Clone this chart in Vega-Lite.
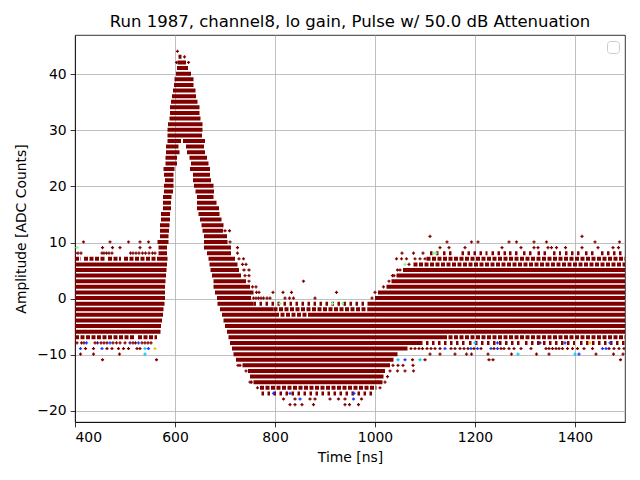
{
  "$schema": "https://vega.github.io/schema/vega-lite/v6.json",
  "width": 550,
  "height": 387,
  "autosize": {"type": "none"},
  "padding": {"left": 75, "top": 35, "right": 15, "bottom": 58},
  "title": {
    "text": "Run 1987, channel8, lo gain, Pulse w/ 50.0 dB Attenuation",
    "font": "DejaVu Sans",
    "fontSize": 16.5,
    "fontWeight": "normal",
    "color": "black",
    "baseline": "alphabetic",
    "offset": 8,
    "dy": 16.5
  },
  "config": {
    "view": {"stroke": "black", "strokeWidth": 0.8},
    "axis": {
      "domainColor": "black",
      "domainWidth": 0.8,
      "tickColor": "black",
      "tickWidth": 0.8,
      "tickSize": 4.9,
      "labelColor": "black",
      "titleColor": "black",
      "labelFont": "DejaVu Sans",
      "titleFont": "DejaVu Sans",
      "labelFontSize": 13.9,
      "titleFontSize": 13.9,
      "titleFontWeight": "normal",
      "labelPadding": 4,
      "gridColor": "#b0b0b0",
      "gridWidth": 0.8,
      "gridOpacity": 1,
      "zindex": 1
    }
  },
  "data": {
    "values": [
      {"t0": 607, "t1": 613, "a": 43.1, "s": "s"},
      {"t0": 605, "t1": 622, "a": 42.1, "s": "s"},
      {"t0": 604, "t1": 626, "a": 41.1, "s": "s"},
      {"t0": 602, "t1": 632, "a": 40.1, "s": "s"},
      {"t0": 599, "t1": 637, "a": 39.1, "s": "s"},
      {"t0": 598, "t1": 637, "a": 38.1, "s": "s"},
      {"t0": 596, "t1": 641, "a": 37.1, "s": "s"},
      {"t0": 594, "t1": 642, "a": 36.1, "s": "s"},
      {"t0": 592, "t1": 645, "a": 35.1, "s": "s"},
      {"t0": 590, "t1": 649, "a": 34.1, "s": "s"},
      {"t0": 590, "t1": 649, "a": 33.1, "s": "s"},
      {"t0": 589, "t1": 651, "a": 32.1, "s": "s"},
      {"t0": 586, "t1": 655, "a": 31.1, "s": "s"},
      {"t0": 585, "t1": 655, "a": 30.1, "s": "s"},
      {"t0": 585, "t1": 654, "a": 29.1, "s": "s"},
      {"t0": 585, "t1": 612, "a": 28.1, "s": "s"},
      {"t0": 616, "t1": 660, "a": 28.1, "s": "s"},
      {"t0": 582, "t1": 607, "a": 27.1, "s": "s"},
      {"t0": 622, "t1": 658, "a": 27.1, "s": "s"},
      {"t0": 582, "t1": 609, "a": 26.1, "s": "s"},
      {"t0": 624, "t1": 660, "a": 26.1, "s": "s"},
      {"t0": 581, "t1": 604, "a": 25.1, "s": "s"},
      {"t0": 629, "t1": 664, "a": 25.1, "s": "s"},
      {"t0": 581, "t1": 604, "a": 24.1, "s": "s"},
      {"t0": 632, "t1": 667, "a": 24.1, "s": "s"},
      {"t0": 577, "t1": 599, "a": 23.1, "s": "s"},
      {"t0": 630, "t1": 670, "a": 23.1, "s": "s"},
      {"t0": 578, "t1": 597, "a": 22.1, "s": "s"},
      {"t0": 636, "t1": 670, "a": 22.1, "s": "s"},
      {"t0": 580, "t1": 597, "a": 21.1, "s": "s"},
      {"t0": 636, "t1": 672, "a": 21.1, "s": "s"},
      {"t0": 578, "t1": 597, "a": 20.1, "s": "s"},
      {"t0": 638, "t1": 677, "a": 20.1, "s": "s"},
      {"t0": 578, "t1": 596, "a": 19.1, "s": "s"},
      {"t0": 641, "t1": 678, "a": 19.1, "s": "s"},
      {"t0": 576, "t1": 593, "a": 18.1, "s": "s"},
      {"t0": 644, "t1": 677, "a": 18.1, "s": "s"},
      {"t0": 576, "t1": 592, "a": 17.1, "s": "s"},
      {"t0": 644, "t1": 683, "a": 17.1, "s": "s"},
      {"t0": 576, "t1": 592, "a": 16.1, "s": "s"},
      {"t0": 644, "t1": 688, "a": 16.1, "s": "s"},
      {"t0": 572, "t1": 590, "a": 15.1, "s": "s"},
      {"t0": 647, "t1": 689, "a": 15.1, "s": "s"},
      {"t0": 572, "t1": 590, "a": 14.1, "s": "s"},
      {"t0": 650, "t1": 693, "a": 14.1, "s": "s"},
      {"t0": 570, "t1": 589, "a": 13.1, "s": "s"},
      {"t0": 653, "t1": 697, "a": 13.1, "s": "s"},
      {"t0": 570, "t1": 588, "a": 12.1, "s": "s"},
      {"t0": 655, "t1": 696, "a": 12.1, "s": "s"},
      {"t0": 570, "t1": 587, "a": 11.1, "s": "s"},
      {"t0": 658, "t1": 704, "a": 11.1, "s": "s"},
      {"t0": 565, "t1": 587, "a": 10.1, "s": "s"},
      {"t0": 658, "t1": 705, "a": 10.1, "s": "s"},
      {"t0": 567, "t1": 584, "a": 9.1, "s": "s"},
      {"t0": 658, "t1": 712, "a": 9.1, "s": "s"},
      {"t0": 567, "t1": 584, "a": 8.1, "s": "s"},
      {"t0": 664, "t1": 712, "a": 8.1, "s": "s"},
      {"t0": 1110, "t1": 1130, "a": 8.1, "s": "m"},
      {"t0": 1136, "t1": 1160, "a": 8.1, "s": "m"},
      {"t0": 1173, "t1": 1225, "a": 8.1, "s": "m"},
      {"t0": 1233, "t1": 1262, "a": 8.1, "s": "m"},
      {"t0": 1268, "t1": 1290, "a": 8.1, "s": "m"},
      {"t0": 1296, "t1": 1318, "a": 8.1, "s": "m"},
      {"t0": 1325, "t1": 1345, "a": 8.1, "s": "m"},
      {"t0": 1356, "t1": 1372, "a": 8.1, "s": "m"},
      {"t0": 1380, "t1": 1412, "a": 8.1, "s": "m"},
      {"t0": 1420, "t1": 1442, "a": 8.1, "s": "m"},
      {"t0": 1452, "t1": 1500, "a": 8.1, "s": "m"},
      {"t0": 400, "t1": 412, "a": 7.1, "s": "d"},
      {"t0": 418, "t1": 460, "a": 7.1, "s": "d"},
      {"t0": 466, "t1": 492, "a": 7.1, "s": "d"},
      {"t0": 498, "t1": 566, "a": 7.1, "s": "d"},
      {"t0": 566, "t1": 585, "a": 7.1, "s": "s"},
      {"t0": 667, "t1": 720, "a": 7.1, "s": "s"},
      {"t0": 1103, "t1": 1500, "a": 7.1, "s": "d"},
      {"t0": 400, "t1": 584, "a": 6.1, "s": "s"},
      {"t0": 669, "t1": 725, "a": 6.1, "s": "s"},
      {"t0": 1077, "t1": 1500, "a": 6.1, "s": "d"},
      {"t0": 400, "t1": 583, "a": 5.1, "s": "s"},
      {"t0": 671, "t1": 728, "a": 5.1, "s": "s"},
      {"t0": 1056, "t1": 1500, "a": 5.1, "s": "s"},
      {"t0": 400, "t1": 582, "a": 4.1, "s": "s"},
      {"t0": 674, "t1": 732, "a": 4.1, "s": "s"},
      {"t0": 1043, "t1": 1500, "a": 4.1, "s": "s"},
      {"t0": 400, "t1": 581, "a": 3.1, "s": "s"},
      {"t0": 677, "t1": 742, "a": 3.1, "s": "s"},
      {"t0": 1033, "t1": 1500, "a": 3.1, "s": "s"},
      {"t0": 400, "t1": 580, "a": 2.1, "s": "s"},
      {"t0": 677, "t1": 750, "a": 2.1, "s": "s"},
      {"t0": 1023, "t1": 1500, "a": 2.1, "s": "s"},
      {"t0": 400, "t1": 580, "a": 1.1, "s": "s"},
      {"t0": 680, "t1": 757, "a": 1.1, "s": "s"},
      {"t0": 1006, "t1": 1500, "a": 1.1, "s": "s"},
      {"t0": 400, "t1": 580, "a": 0.1, "s": "s"},
      {"t0": 684, "t1": 752, "a": 0.1, "s": "s"},
      {"t0": 1000, "t1": 1500, "a": 0.1, "s": "s"},
      {"t0": 400, "t1": 579, "a": -0.9, "s": "s"},
      {"t0": 685, "t1": 757, "a": -0.9, "s": "s"},
      {"t0": 757, "t1": 988, "a": -0.9, "s": "m"},
      {"t0": 988, "t1": 1500, "a": -0.9, "s": "s"},
      {"t0": 400, "t1": 577, "a": -1.9, "s": "s"},
      {"t0": 690, "t1": 797, "a": -1.9, "s": "s"},
      {"t0": 797, "t1": 985, "a": -1.9, "s": "d"},
      {"t0": 985, "t1": 1500, "a": -1.9, "s": "s"},
      {"t0": 400, "t1": 576, "a": -2.9, "s": "s"},
      {"t0": 694, "t1": 800, "a": -2.9, "s": "s"},
      {"t0": 800, "t1": 870, "a": -2.9, "s": "d"},
      {"t0": 870, "t1": 1500, "a": -2.9, "s": "s"},
      {"t0": 400, "t1": 574, "a": -3.9, "s": "s"},
      {"t0": 697, "t1": 1500, "a": -3.9, "s": "s"},
      {"t0": 400, "t1": 572, "a": -4.9, "s": "s"},
      {"t0": 700, "t1": 1500, "a": -4.9, "s": "s"},
      {"t0": 400, "t1": 571, "a": -5.9, "s": "s"},
      {"t0": 704, "t1": 1500, "a": -5.9, "s": "s"},
      {"t0": 400, "t1": 520, "a": -6.9, "s": "d"},
      {"t0": 526, "t1": 564, "a": -6.9, "s": "d"},
      {"t0": 707, "t1": 1136, "a": -6.9, "s": "s"},
      {"t0": 1136, "t1": 1500, "a": -6.9, "s": "d"},
      {"t0": 710, "t1": 1090, "a": -7.9, "s": "s"},
      {"t0": 1090, "t1": 1180, "a": -7.9, "s": "m"},
      {"t0": 1188, "t1": 1290, "a": -7.9, "s": "m"},
      {"t0": 1300, "t1": 1400, "a": -7.9, "s": "m"},
      {"t0": 1410, "t1": 1500, "a": -7.9, "s": "m"},
      {"t0": 714, "t1": 1065, "a": -8.9, "s": "s"},
      {"t0": 717, "t1": 1045, "a": -9.9, "s": "s"},
      {"t0": 722, "t1": 1037, "a": -10.9, "s": "s"},
      {"t0": 735, "t1": 1030, "a": -11.9, "s": "s"},
      {"t0": 746, "t1": 1020, "a": -12.9, "s": "s"},
      {"t0": 750, "t1": 1017, "a": -13.9, "s": "s"},
      {"t0": 757, "t1": 1015, "a": -14.9, "s": "s"},
      {"t0": 770, "t1": 1003, "a": -15.9, "s": "d"},
      {"t0": 773, "t1": 1000, "a": -16.9, "s": "m"},

      {"t0": 605, "a": 44.1, "c": "r"},
      {"t0": 619, "a": 43.1, "c": "r"},
      {"t0": 603, "a": 42.1, "c": "r"},
      {"t0": 627, "a": 42.1, "c": "r"},
      {"t0": 700, "a": 12.1, "c": "r"},
      {"t0": 709, "a": 12.1, "c": "r"},
      {"t0": 1110, "a": 11.1, "c": "r"},
      {"t0": 1414, "a": 11.1, "c": "r"},
      {"t0": 417, "a": 10.1, "c": "r"},
      {"t0": 470, "a": 10.1, "c": "r"},
      {"t0": 507, "a": 10.1, "c": "r"},
      {"t0": 530, "a": 10.1, "c": "r"},
      {"t0": 547, "a": 10.1, "c": "r"},
      {"t0": 710, "a": 10.1, "c": "r"},
      {"t0": 1144, "a": 10.1, "c": "r"},
      {"t0": 1193, "a": 10.1, "c": "r"},
      {"t0": 1206, "a": 10.1, "c": "r"},
      {"t0": 1268, "a": 10.1, "c": "r"},
      {"t0": 1283, "a": 10.1, "c": "r"},
      {"t0": 1318, "a": 10.1, "c": "r"},
      {"t0": 1343, "a": 10.1, "c": "r"},
      {"t0": 1440, "a": 10.1, "c": "r"},
      {"t0": 1489, "a": 10.1, "c": "r"},
      {"t0": 404, "a": 9.1, "c": "g"},
      {"t0": 455, "a": 9.1, "c": "r"},
      {"t0": 475, "a": 9.1, "c": "r"},
      {"t0": 490, "a": 9.1, "c": "r"},
      {"t0": 530, "a": 9.1, "c": "r"},
      {"t0": 550, "a": 9.1, "c": "r"},
      {"t0": 725, "a": 9.1, "c": "r"},
      {"t0": 1130, "a": 9.1, "c": "r"},
      {"t0": 1148, "a": 9.1, "c": "r"},
      {"t0": 1180, "a": 9.1, "c": "r"},
      {"t0": 1254, "a": 9.1, "c": "r"},
      {"t0": 1292, "a": 9.1, "c": "r"},
      {"t0": 1318, "a": 9.1, "c": "r"},
      {"t0": 1326, "a": 9.1, "c": "r"},
      {"t0": 1346, "a": 9.1, "c": "r"},
      {"t0": 1353, "a": 9.1, "c": "r"},
      {"t0": 1363, "a": 9.1, "c": "r"},
      {"t0": 1381, "a": 9.1, "c": "r"},
      {"t0": 1414, "a": 9.1, "c": "r"},
      {"t0": 1446, "a": 9.1, "c": "r"},
      {"t0": 1476, "a": 9.1, "c": "r"},
      {"t0": 1487, "a": 9.1, "c": "r"},
      {"t0": 401, "a": 8.1, "c": "r"},
      {"t0": 406, "a": 8.1, "c": "r"},
      {"t0": 412, "a": 8.1, "c": "r"},
      {"t0": 454, "a": 8.1, "c": "r"},
      {"t0": 458, "a": 8.1, "c": "r"},
      {"t0": 463, "a": 8.1, "c": "r"},
      {"t0": 468, "a": 8.1, "c": "r"},
      {"t0": 474, "a": 8.1, "c": "r"},
      {"t0": 511, "a": 8.1, "c": "r"},
      {"t0": 516, "a": 8.1, "c": "r"},
      {"t0": 522, "a": 8.1, "c": "r"},
      {"t0": 528, "a": 8.1, "c": "r"},
      {"t0": 535, "a": 8.1, "c": "r"},
      {"t0": 541, "a": 8.1, "c": "r"},
      {"t0": 548, "a": 8.1, "c": "r"},
      {"t0": 555, "a": 8.1, "c": "r"},
      {"t0": 560, "a": 8.1, "c": "r"},
      {"t0": 725, "a": 8.1, "c": "r"},
      {"t0": 1054, "a": 8.1, "c": "r"},
      {"t0": 1077, "a": 8.1, "c": "r"},
      {"t0": 1096, "a": 8.1, "c": "r"},
      {"t0": 1118, "a": 8.1, "c": "g"},
      {"t0": 1122, "a": 8.1, "c": "g"},
      {"t0": 728, "a": 7.1, "c": "r"},
      {"t0": 737, "a": 7.1, "c": "r"},
      {"t0": 1043, "a": 7.1, "c": "r"},
      {"t0": 1053, "a": 7.1, "c": "r"},
      {"t0": 1063, "a": 7.1, "c": "r"},
      {"t0": 1080, "a": 7.1, "c": "r"},
      {"t0": 1090, "a": 7.1, "c": "r"},
      {"t0": 1100, "a": 7.1, "c": "r"},
      {"t0": 735, "a": 6.1, "c": "r"},
      {"t0": 742, "a": 6.1, "c": "r"},
      {"t0": 1060, "a": 6.1, "c": "g"},
      {"t0": 1068, "a": 6.1, "c": "r"},
      {"t0": 738, "a": 5.1, "c": "r"},
      {"t0": 748, "a": 5.1, "c": "r"},
      {"t0": 1045, "a": 5.1, "c": "r"},
      {"t0": 1050, "a": 5.1, "c": "r"},
      {"t0": 740, "a": 4.1, "c": "r"},
      {"t0": 748, "a": 4.1, "c": "r"},
      {"t0": 1035, "a": 4.1, "c": "r"},
      {"t0": 1038, "a": 4.1, "c": "r"},
      {"t0": 748, "a": 3.1, "c": "r"},
      {"t0": 857, "a": 3.1, "c": "r"},
      {"t0": 1028, "a": 3.1, "c": "r"},
      {"t0": 755, "a": 2.1, "c": "r"},
      {"t0": 762, "a": 2.1, "c": "r"},
      {"t0": 1017, "a": 2.1, "c": "r"},
      {"t0": 763, "a": 1.1, "c": "r"},
      {"t0": 768, "a": 1.1, "c": "r"},
      {"t0": 796, "a": 1.1, "c": "r"},
      {"t0": 816, "a": 1.1, "c": "r"},
      {"t0": 833, "a": 1.1, "c": "r"},
      {"t0": 923, "a": 1.1, "c": "r"},
      {"t0": 1000, "a": 1.1, "c": "r"},
      {"t0": 757, "a": 0.1, "c": "r"},
      {"t0": 762, "a": 0.1, "c": "r"},
      {"t0": 767, "a": 0.1, "c": "r"},
      {"t0": 772, "a": 0.1, "c": "r"},
      {"t0": 777, "a": 0.1, "c": "r"},
      {"t0": 784, "a": 0.1, "c": "r"},
      {"t0": 790, "a": 0.1, "c": "r"},
      {"t0": 820, "a": 0.1, "c": "r"},
      {"t0": 829, "a": 0.1, "c": "r"},
      {"t0": 837, "a": 0.1, "c": "r"},
      {"t0": 880, "a": 0.1, "c": "r"},
      {"t0": 994, "a": 0.1, "c": "r"},
      {"t0": 810, "a": -0.9, "c": "g"},
      {"t0": 915, "a": -0.9, "c": "g"},
      {"t0": 935, "a": -0.9, "c": "g"},
      {"t0": 400, "a": -7.9, "c": "r"},
      {"t0": 404, "a": -7.9, "c": "r"},
      {"t0": 413, "a": -7.9, "c": "r"},
      {"t0": 418, "a": -7.9, "c": "r"},
      {"t0": 423, "a": -7.9, "c": "b"},
      {"t0": 440, "a": -7.9, "c": "r"},
      {"t0": 445, "a": -7.9, "c": "p"},
      {"t0": 452, "a": -7.9, "c": "r"},
      {"t0": 458, "a": -7.9, "c": "r"},
      {"t0": 464, "a": -7.9, "c": "r"},
      {"t0": 470, "a": -7.9, "c": "b"},
      {"t0": 476, "a": -7.9, "c": "r"},
      {"t0": 483, "a": -7.9, "c": "r"},
      {"t0": 490, "a": -7.9, "c": "r"},
      {"t0": 500, "a": -7.9, "c": "r"},
      {"t0": 510, "a": -7.9, "c": "p"},
      {"t0": 516, "a": -7.9, "c": "r"},
      {"t0": 521, "a": -7.9, "c": "r"},
      {"t0": 527, "a": -7.9, "c": "b"},
      {"t0": 534, "a": -7.9, "c": "r"},
      {"t0": 540, "a": -7.9, "c": "r"},
      {"t0": 546, "a": -7.9, "c": "r"},
      {"t0": 552, "a": -7.9, "c": "r"},
      {"t0": 1200, "a": -7.9, "c": "c"},
      {"t0": 1245, "a": -7.9, "c": "b"},
      {"t0": 1330, "a": -7.9, "c": "p"},
      {"t0": 1380, "a": -7.9, "c": "b"},
      {"t0": 1430, "a": -7.9, "c": "y"},
      {"t0": 1470, "a": -7.9, "c": "b"},
      {"t0": 411, "a": -8.9, "c": "b"},
      {"t0": 421, "a": -8.9, "c": "r"},
      {"t0": 437, "a": -8.9, "c": "r"},
      {"t0": 454, "a": -8.9, "c": "b"},
      {"t0": 464, "a": -8.9, "c": "r"},
      {"t0": 474, "a": -8.9, "c": "r"},
      {"t0": 487, "a": -8.9, "c": "r"},
      {"t0": 497, "a": -8.9, "c": "r"},
      {"t0": 507, "a": -8.9, "c": "r"},
      {"t0": 524, "a": -8.9, "c": "r"},
      {"t0": 530, "a": -8.9, "c": "r"},
      {"t0": 540, "a": -8.9, "c": "c"},
      {"t0": 547, "a": -8.9, "c": "b"},
      {"t0": 560, "a": -8.9, "c": "y"},
      {"t0": 1072, "a": -8.9, "c": "r"},
      {"t0": 1080, "a": -8.9, "c": "r"},
      {"t0": 1088, "a": -8.9, "c": "r"},
      {"t0": 1095, "a": -8.9, "c": "r"},
      {"t0": 1104, "a": -8.9, "c": "r"},
      {"t0": 1112, "a": -8.9, "c": "r"},
      {"t0": 1120, "a": -8.9, "c": "r"},
      {"t0": 1130, "a": -8.9, "c": "r"},
      {"t0": 1140, "a": -8.9, "c": "b"},
      {"t0": 1152, "a": -8.9, "c": "r"},
      {"t0": 1160, "a": -8.9, "c": "r"},
      {"t0": 1170, "a": -8.9, "c": "r"},
      {"t0": 1178, "a": -8.9, "c": "r"},
      {"t0": 1186, "a": -8.9, "c": "r"},
      {"t0": 1192, "a": -8.9, "c": "b"},
      {"t0": 1198, "a": -8.9, "c": "r"},
      {"t0": 1205, "a": -8.9, "c": "b"},
      {"t0": 1212, "a": -8.9, "c": "r"},
      {"t0": 1232, "a": -8.9, "c": "b"},
      {"t0": 1238, "a": -8.9, "c": "r"},
      {"t0": 1245, "a": -8.9, "c": "b"},
      {"t0": 1252, "a": -8.9, "c": "r"},
      {"t0": 1258, "a": -8.9, "c": "r"},
      {"t0": 1268, "a": -8.9, "c": "r"},
      {"t0": 1278, "a": -8.9, "c": "r"},
      {"t0": 1292, "a": -8.9, "c": "r"},
      {"t0": 1312, "a": -8.9, "c": "r"},
      {"t0": 1342, "a": -8.9, "c": "r"},
      {"t0": 1348, "a": -8.9, "c": "r"},
      {"t0": 1355, "a": -8.9, "c": "r"},
      {"t0": 1362, "a": -8.9, "c": "r"},
      {"t0": 1368, "a": -8.9, "c": "r"},
      {"t0": 1375, "a": -8.9, "c": "r"},
      {"t0": 1385, "a": -8.9, "c": "r"},
      {"t0": 1395, "a": -8.9, "c": "r"},
      {"t0": 1405, "a": -8.9, "c": "r"},
      {"t0": 1418, "a": -8.9, "c": "r"},
      {"t0": 1435, "a": -8.9, "c": "r"},
      {"t0": 1455, "a": -8.9, "c": "b"},
      {"t0": 1462, "a": -8.9, "c": "b"},
      {"t0": 1468, "a": -8.9, "c": "r"},
      {"t0": 1478, "a": -8.9, "c": "r"},
      {"t0": 1488, "a": -8.9, "c": "r"},
      {"t0": 1498, "a": -8.9, "c": "r"},
      {"t0": 411, "a": -9.9, "c": "r"},
      {"t0": 437, "a": -9.9, "c": "r"},
      {"t0": 489, "a": -9.9, "c": "r"},
      {"t0": 540, "a": -9.9, "c": "c"},
      {"t0": 1110, "a": -9.9, "c": "r"},
      {"t0": 1130, "a": -9.9, "c": "r"},
      {"t0": 1160, "a": -9.9, "c": "r"},
      {"t0": 1183, "a": -9.9, "c": "r"},
      {"t0": 1193, "a": -9.9, "c": "r"},
      {"t0": 1226, "a": -9.9, "c": "r"},
      {"t0": 1273, "a": -9.9, "c": "r"},
      {"t0": 1286, "a": -9.9, "c": "c"},
      {"t0": 1323, "a": -9.9, "c": "r"},
      {"t0": 1348, "a": -9.9, "c": "r"},
      {"t0": 1400, "a": -9.9, "c": "c"},
      {"t0": 1408, "a": -9.9, "c": "b"},
      {"t0": 1442, "a": -9.9, "c": "r"},
      {"t0": 1477, "a": -9.9, "c": "r"},
      {"t0": 1496, "a": -9.9, "c": "r"},
      {"t0": 455, "a": -10.9, "c": "r"},
      {"t0": 563, "a": -10.9, "c": "r"},
      {"t0": 1046, "a": -10.9, "c": "c"},
      {"t0": 1060, "a": -10.9, "c": "b"},
      {"t0": 1075, "a": -10.9, "c": "r"},
      {"t0": 1090, "a": -10.9, "c": "c"},
      {"t0": 1100, "a": -10.9, "c": "r"},
      {"t0": 1228, "a": -10.9, "c": "r"},
      {"t0": 1236, "a": -10.9, "c": "r"},
      {"t0": 1491, "a": -10.9, "c": "r"},
      {"t0": 726, "a": -11.9, "c": "r"},
      {"t0": 730, "a": -11.9, "c": "r"},
      {"t0": 1036, "a": -11.9, "c": "r"},
      {"t0": 1046, "a": -11.9, "c": "r"},
      {"t0": 1056, "a": -11.9, "c": "r"},
      {"t0": 1076, "a": -11.9, "c": "r"},
      {"t0": 742, "a": -12.9, "c": "r"},
      {"t0": 1030, "a": -12.9, "c": "r"},
      {"t0": 1045, "a": -12.9, "c": "r"},
      {"t0": 1060, "a": -12.9, "c": "r"},
      {"t0": 1077, "a": -12.9, "c": "r"},
      {"t0": 1025, "a": -13.9, "c": "r"},
      {"t0": 750, "a": -14.9, "c": "r"},
      {"t0": 753, "a": -14.9, "c": "r"},
      {"t0": 1020, "a": -14.9, "c": "r"},
      {"t0": 765, "a": -15.9, "c": "r"},
      {"t0": 1010, "a": -15.9, "c": "r"},
      {"t0": 797, "a": -16.9, "c": "b"},
      {"t0": 830, "a": -16.9, "c": "b"},
      {"t0": 958, "a": -16.9, "c": "b"},
      {"t0": 817, "a": -17.9, "c": "r"},
      {"t0": 840, "a": -17.9, "c": "r"},
      {"t0": 850, "a": -17.9, "c": "b"},
      {"t0": 870, "a": -17.9, "c": "r"},
      {"t0": 880, "a": -17.9, "c": "r"},
      {"t0": 910, "a": -17.9, "c": "r"},
      {"t0": 927, "a": -17.9, "c": "r"},
      {"t0": 940, "a": -17.9, "c": "r"},
      {"t0": 957, "a": -17.9, "c": "b"},
      {"t0": 973, "a": -17.9, "c": "r"},
      {"t0": 830, "a": -18.9, "c": "r"},
      {"t0": 840, "a": -18.9, "c": "r"},
      {"t0": 854, "a": -18.9, "c": "r"},
      {"t0": 877, "a": -18.9, "c": "r"},
      {"t0": 940, "a": -18.9, "c": "r"},
      {"t0": 949, "a": -18.9, "c": "r"},
      {"t0": 967, "a": -18.9, "c": "r"}
    ]
  },
  "encoding": {
    "x": {
      "field": "t0",
      "type": "quantitative",
      "scale": {"domain": [400, 1500], "nice": false, "zero": false},
      "axis": {"title": "Time [ns]", "format": "d", "values": [400, 600, 800, 1000, 1200, 1400], "titlePadding": 6}
    },
    "y": {
      "field": "a",
      "type": "quantitative",
      "scale": {"domain": [-22, 47], "nice": false, "zero": false},
      "axis": {"title": "Amplitude [ADC Counts]", "values": [-20, -10, 0, 10, 20, 30, 40], "titlePadding": 8}
    }
  },
  "layer": [
    {
      "transform": [{"filter": "datum.t1 != null"}],
      "mark": {"type": "rule", "strokeWidth": 4, "color": "#800000", "clip": true},
      "encoding": {
        "x2": {"field": "t1"},
        "strokeDash": {
          "field": "s",
          "type": "nominal",
          "scale": {"domain": ["s", "d", "m"], "range": [[1, 0], [4, 1.5], [2.5, 3.5]]},
          "legend": {
            "values": [],
            "orient": "top-right",
            "offset": 6,
            "padding": 6,
            "title": null,
            "strokeColor": "#cccccc",
            "fillColor": "#ffffff",
            "cornerRadius": 3
          }
        }
      }
    },
    {
      "transform": [{"filter": "datum.t1 == null"}],
      "mark": {"type": "point", "shape": "cross", "filled": true, "size": 10, "opacity": 1, "clip": true},
      "encoding": {
        "color": {
          "field": "c",
          "type": "nominal",
          "scale": {
            "domain": ["r", "b", "c", "g", "y", "p"],
            "range": ["#800000", "#1a3cff", "#00ccff", "#80ff80", "#ffc000", "#4b0f6e"]
          },
          "legend": null
        }
      }
    }
  ]
}
